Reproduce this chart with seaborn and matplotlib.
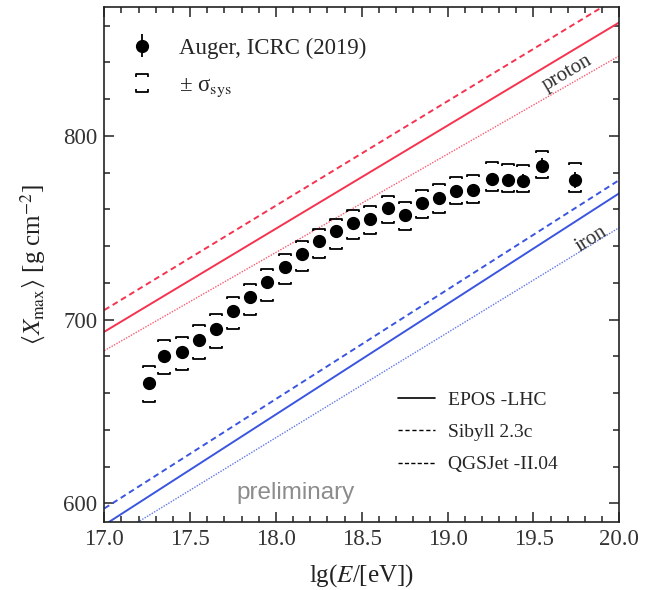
import numpy as np
import pandas as pd
import matplotlib
matplotlib.use("Agg")
import matplotlib.pyplot as plt
import seaborn as sns
from matplotlib.path import Path
from matplotlib.lines import Line2D
from matplotlib.ticker import MultipleLocator

# ---------------- data ----------------
lgE = [17.26, 17.35, 17.45, 17.55, 17.65, 17.75, 17.85, 17.95, 18.05, 18.15,
       18.25, 18.35, 18.45, 18.55, 18.65, 18.75, 18.85, 18.95, 19.05, 19.15,
       19.26, 19.35, 19.44, 19.55, 19.74]
xmax = [665.3, 680.2, 682.2, 688.9, 694.7, 704.8, 712.5, 720.3, 728.8, 735.9,
        742.8, 748.1, 752.8, 755.0, 760.6, 757.0, 763.3, 766.1, 770.0, 770.6,
        776.6, 776.0, 775.7, 783.8, 776.0]
stat_err = [1.8, 1.5, 1.5, 1.5, 1.5, 1.5, 1.5, 1.5, 1.5, 1.5,
            1.5, 1.5, 1.5, 1.5, 1.5, 1.8, 1.8, 2.0, 2.2, 2.5,
            3.0, 3.0, 3.5, 4.0, 4.5]
sys_up = [9.4, 8.7, 8.2, 8.3, 8.2, 7.6, 7.1, 7.3, 6.7, 6.9,
          6.4, 6.5, 6.7, 6.9, 6.9, 6.9, 7.3, 7.8, 7.8, 8.0,
          9.1, 8.7, 8.5, 8.2, 9.4]
sys_low = [10.0, 10.0, 9.6, 10.5, 10.0, 10.0, 10.0, 10.0, 9.6, 9.3,
           9.4, 9.6, 9.1, 8.5, 7.8, 8.2, 7.8, 7.8, 7.3, 7.3,
           6.5, 6.5, 6.5, 6.7, 6.4]

models = ["EPOS -LHC", "Sibyll 2.3c", "QGSJet -II.04"]
line_lgE = [17.0, 20.0]
proton_xmax = {"EPOS -LHC": [693.4, 861.8],
               "Sibyll 2.3c": [705.2, 875.8],
               "QGSJet -II.04": [683.1, 843.6]}
iron_xmax = {"EPOS -LHC": [588.2, 768.8],
             "Sibyll 2.3c": [597.2, 776.0],
             "QGSJet -II.04": [578.6, 750.1]}

x_ticks = [17.0, 17.5, 18.0, 18.5, 19.0, 19.5, 20.0]
y_ticks = [600, 700, 800]

# ---------------- style ----------------
sns.set_theme(style="ticks")
plt.rcParams["font.family"] = ["Liberation Serif", "DejaVu Serif"]
plt.rcParams["mathtext.fontset"] = "stix"

fig = plt.figure(figsize=(6.46, 5.90), dpi=100)
ax = fig.add_axes([0.1615, 0.1158, 0.7972, 0.8718])

red = "#f5334f"
blue = "#3a55e0"
styles = {"EPOS -LHC": dict(lw=1.4, dashes=None, alpha=1.0),
          "Sibyll 2.3c": dict(lw=1.4, dashes=(3, 2), alpha=1.0),
          "QGSJet -II.04": dict(lw=1.0, dashes=(1, 1), alpha=0.8)}

for prim, table, col in [("proton", proton_xmax, red), ("iron", iron_xmax, blue)]:
    for m in models:
        df = pd.DataFrame({"lgE": line_lgE, "Xmax": table[m]})
        st = styles[m]
        sns.lineplot(data=df, x="lgE", y="Xmax", ax=ax, color=col,
                     lw=st["lw"], alpha=st["alpha"], legend=False)
        if st["dashes"] is not None:
            ax.lines[-1].set_dashes(st["dashes"])

# systematic brackets
top_br = Path([(-1, -0.32), (-1, 0), (1, 0), (1, -0.32)],
              [Path.MOVETO, Path.LINETO, Path.LINETO, Path.LINETO])
bot_br = Path([(-1, 0.32), (-1, 0), (1, 0), (1, 0.32)],
              [Path.MOVETO, Path.LINETO, Path.LINETO, Path.LINETO])
x_arr = np.array(lgE)
y_arr = np.array(xmax)
ax.plot(x_arr, y_arr + np.array(sys_up), ls="none", marker=top_br, ms=8.6,
        mfc="none", mec="black", mew=1.3)
ax.plot(x_arr, y_arr - np.array(sys_low), ls="none", marker=bot_br, ms=8.6,
        mfc="none", mec="black", mew=1.3)

# data points
eb = ax.errorbar(x_arr, y_arr, yerr=stat_err, fmt="o", color="black",
                 ms=8.5, elinewidth=1.3, capsize=0, zorder=5,
                 label="Auger, ICRC (2019)")

ax.set_xlim(17.0, 20.0)
ax.set_ylim(590, 870)
ax.set_xticks(x_ticks)
ax.set_xticklabels([f"{v:.1f}" for v in x_ticks])
ax.set_yticks(y_ticks)
ax.set_yticklabels([str(v) for v in y_ticks])
ax.xaxis.set_minor_locator(MultipleLocator(0.1))
ax.yaxis.set_minor_locator(MultipleLocator(20))
ax.tick_params(which="both", direction="in", top=True, right=True,
               width=1.1, colors="#222222", labelsize=16.5, labelcolor="#333333")
ax.tick_params(which="major", length=7.5, pad=5)
ax.tick_params(which="minor", length=4.2)
for sp in ax.spines.values():
    sp.set_linewidth(1.2)
    sp.set_color("#222222")

ax.set_xlabel(r"lg($E$/[eV])", fontsize=18, labelpad=9, color="#222222")
ax.set_ylabel(r"$\langle X_{\rm max}\rangle$ [g cm$^{-2}$]", fontsize=18,
              labelpad=11, color="#222222")

# labels on model lines
ax.text(19.70, 834, "proton", rotation=30.5, fontsize=15, color="#333333",
        ha="center", va="center", rotation_mode="anchor")
ax.text(19.84, 744, "iron", rotation=32, fontsize=15, color="#333333",
        ha="center", va="center", rotation_mode="anchor")

ax.text(0.371, 0.056, "preliminary", transform=ax.transAxes, fontsize=17.5,
        family="Liberation Sans", color="#8c8c8c", ha="center", va="center")

# legend 1: data + sys
sys_mark = Path([(-0.67, 0.62), (-0.67, 1), (0.67, 1), (0.67, 0.62),
                 (-0.67, -0.62), (-0.67, -1), (0.67, -1), (0.67, -0.62)],
                [Path.MOVETO, Path.LINETO, Path.LINETO, Path.LINETO,
                 Path.MOVETO, Path.LINETO, Path.LINETO, Path.LINETO])
h_sys = Line2D([], [], ls="none", marker=sys_mark, ms=13, mfc="none",
               mec="black", mew=1.3)
leg1 = ax.legend([eb, h_sys], ["Auger, ICRC (2019)", "± σ$_{\\rm sys}$"],
                 loc="upper left", bbox_to_anchor=(0.02, 0.968), frameon=False,
                 fontsize=16.5, handlelength=1.2, handletextpad=1.0,
                 labelspacing=0.72, borderaxespad=0.2)
ax.add_artist(leg1)

# legend 2: models
mh = [Line2D([], [], color="black", lw=1.2),
      Line2D([], [], color="black", lw=1.0, dashes=(3, 2)),
      Line2D([], [], color="black", lw=1.0, dashes=(3, 1.6))]
ax.legend(mh, models, loc="lower right", bbox_to_anchor=(0.915, 0.06),
          frameon=False, fontsize=14, handlelength=1.9, handletextpad=0.7,
          labelspacing=0.75)

fig.savefig("out.png", dpi=100)
